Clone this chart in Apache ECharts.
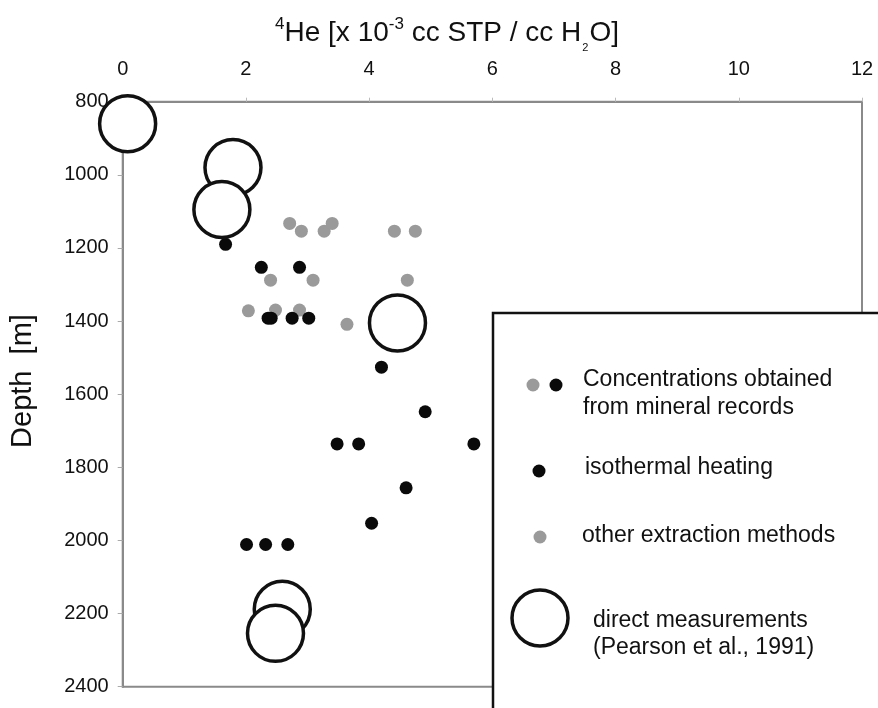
<!DOCTYPE html>
<html>
<head>
<meta charset="utf-8">
<script src="https://cdn.jsdelivr.net/npm/echarts@6/dist/echarts.min.js"></script>
<style>html,body{margin:0;padding:0;background:#fff}#c{width:878px;height:708px}</style>
</head>
<body>
<div id="c"></div>
<script>
// He concentration (x 10^-3 cc STP / cc H2O) and depth (m)
const otherX     = [2.71, 2.90, 3.27, 3.40, 4.41, 4.75, 2.40, 3.09, 4.62, 2.04, 2.48, 2.87, 3.64];
const otherDepth = [1133, 1154, 1154, 1133, 1154, 1154, 1288, 1288, 1288, 1372, 1370, 1370, 1409];
const heatX      = [1.67, 2.25, 2.87, 2.36, 2.41, 2.75, 3.02, 4.20, 4.91, 3.48, 3.83, 5.70, 4.60, 4.04, 2.01, 2.32, 2.68];
const heatDepth  = [1190, 1253, 1253, 1392, 1392, 1392, 1392, 1526, 1648, 1736, 1736, 1736, 1856, 1953, 2011, 2011, 2011];
const directX    = [0.08, 1.79, 1.61, 4.46, 2.59, 2.48];
const directDepth= [860, 980, 1095, 1405, 2188, 2254];
const xTicks = [0, 2, 4, 6, 8, 10, 12];
const yTicks = [800, 1000, 1200, 1400, 1600, 1800, 2000, 2200, 2400];

const pair = (xs, ys) => xs.map((v, i) => [v, ys[i]]);
const FONT = 'Liberation Sans, Arial, sans-serif';
const axisGray = '#8a8a8a';

const chart = echarts.init(document.getElementById('c'));
chart.setOption({
  animation: false,
  backgroundColor: '#fff',
  grid: {
    left: 122.7, top: 101.7, right: 16, bottom: 21.3,
    show: true, borderColor: axisGray, borderWidth: 2, backgroundColor: 'transparent'
  },
  xAxis: {
    type: 'value', position: 'top', min: xTicks[0], max: xTicks[xTicks.length - 1], interval: 2,
    axisLine: { show: true, lineStyle: { color: axisGray, width: 2 } },
    axisTick: { show: true, length: 4, lineStyle: { color: '#bbb', width: 1 } },
    splitLine: { show: false },
    axisLabel: { fontFamily: FONT, fontSize: 20, color: '#111', margin: 22, formatter: v => String(v) }
  },
  yAxis: {
    type: 'value', inverse: true, min: yTicks[0], max: yTicks[yTicks.length - 1], interval: 200,
    axisLine: { show: true, lineStyle: { color: axisGray, width: 2 } },
    axisTick: { show: true, length: 5, lineStyle: { color: '#aaa', width: 1 } },
    splitLine: { show: false },
    axisLabel: { fontFamily: FONT, fontSize: 20, color: '#111', margin: 14, formatter: v => String(v) }
  },
  series: [
    {
      name: 'other extraction methods', type: 'scatter', clip: false, z: 2,
      symbol: 'circle', symbolSize: 13,
      itemStyle: { color: '#9a9a9a', opacity: 1 },
      data: pair(otherX, otherDepth)
    },
    {
      name: 'isothermal heating', type: 'scatter', clip: false, z: 3,
      symbol: 'circle', symbolSize: 13,
      itemStyle: { color: '#0a0a0a', opacity: 1 },
      data: pair(heatX, heatDepth)
    },
    {
      name: 'direct measurements', type: 'scatter', clip: false, z: 4,
      symbol: 'circle', symbolSize: 56,
      itemStyle: { color: '#fff', borderColor: '#111', borderWidth: 3.5, opacity: 1 },
      data: pair(directX, directDepth)
    }
  ],
  graphic: [
    {
      type: 'text', x: 447, y: 37, z: 10,
      style: {
        text: '{sup|4}{n|He [x 10}{sup|-3}{n| cc STP / cc H}{sub|2}{n|O]}',
        textAlign: 'center', textVerticalAlign: 'middle',
        rich: {
          n: { fontFamily: FONT, fontSize: 28, fill: '#111', color: '#111', verticalAlign: 'bottom', lineHeight: 32, padding: [0, 0, 6, 0] },
          sup: { fontFamily: FONT, fontSize: 17, fill: '#111', color: '#111', verticalAlign: 'bottom', lineHeight: 20, padding: [0, 0, 20, 0] },
          sub: { fontFamily: FONT, fontSize: 11, fill: '#111', color: '#111', verticalAlign: 'bottom', lineHeight: 12, padding: [0, 1, 0, 1] }
        }
      }
    },
    {
      type: 'text', rotation: Math.PI / 2, x: 23, y: 381, z: 10,
      style: { text: 'Depth  [m]', font: '29px ' + FONT, fill: '#111', textAlign: 'center', textVerticalAlign: 'middle' }
    },
    {
      type: 'group', z: 100,
      children: [
        { type: 'rect', shape: { x: 493, y: 313, width: 420, height: 420 },
          style: { fill: '#fff', stroke: '#111', lineWidth: 2.5 } },
        { type: 'circle', shape: { cx: 533, cy: 385, r: 6.5 }, style: { fill: '#9a9a9a' } },
        { type: 'circle', shape: { cx: 556, cy: 385, r: 6.5 }, style: { fill: '#0a0a0a' } },
        { type: 'text', x: 583, y: 394,
          style: { text: 'Concentrations obtained\nfrom mineral records', font: '23px ' + FONT, fill: '#111',
                   lineHeight: 28, textVerticalAlign: 'middle', textAlign: 'left' } },
        { type: 'circle', shape: { cx: 539, cy: 471, r: 6.5 }, style: { fill: '#0a0a0a' } },
        { type: 'text', x: 585, y: 468,
          style: { text: 'isothermal heating', font: '23px ' + FONT, fill: '#111', textVerticalAlign: 'middle' } },
        { type: 'circle', shape: { cx: 540, cy: 537, r: 6.5 }, style: { fill: '#9a9a9a' } },
        { type: 'text', x: 582, y: 536,
          style: { text: 'other extraction methods', font: '23px ' + FONT, fill: '#111', textVerticalAlign: 'middle' } },
        { type: 'circle', shape: { cx: 540, cy: 618, r: 28 }, style: { fill: '#fff', stroke: '#111', lineWidth: 3.5 } },
        { type: 'text', x: 593, y: 634,
          style: { text: 'direct measurements\n(Pearson et al., 1991)', font: '23px ' + FONT, fill: '#111',
                   lineHeight: 27, textVerticalAlign: 'middle' } }
      ]
    }
  ]
});
</script>
</body>
</html>
